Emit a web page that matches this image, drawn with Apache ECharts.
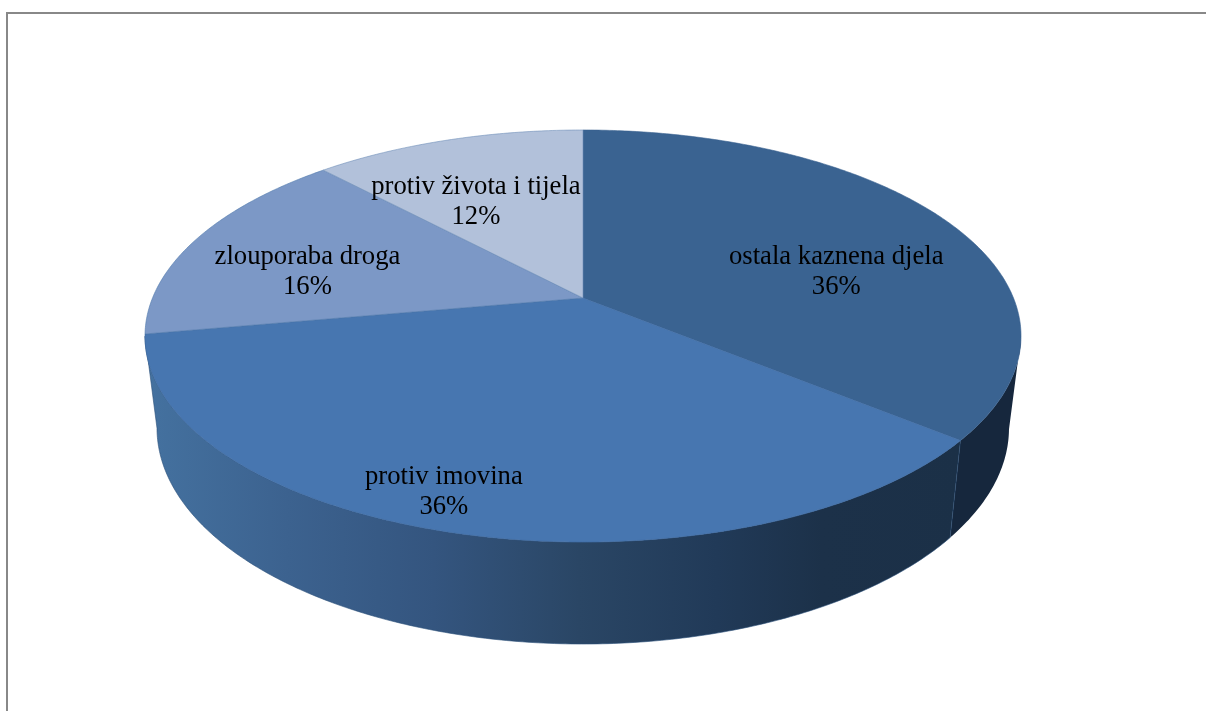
<!DOCTYPE html>
<html>
<head>
<meta charset="utf-8">
<style>html,body{margin:0;padding:0;background:#fff}#c{width:1206px;height:711px}</style>
<script src="https://cdn.jsdelivr.net/npm/echarts@6/dist/echarts.min.js"></script>
</head>
<body>
<div id="c"></div>
<script>
// Data
const categories = ['ostala kaznena djela', 'protiv imovina', 'zlouporaba droga', 'protiv života i tijela'];
const shares = [35.9, 36.3, 15.8, 12];

// Look
const topColors = ['#3a6391', '#4776b0', '#7c98c6', '#b2c1da'];
const edgeColors = ['#37608e', '#3f6ca3', '#4f79ab', '#6f8fb8'];
const labelDisc = [[0.603, -0.135], [-0.274, 0.825], [-0.656, -0.135], [-0.273, -0.53]];

// Projection of the pie disc (perspective view)
const apexX = 583, apexY = 298, tilt = 0.1845, discB = 199, topRx = 438;
const discA = topRx * Math.sqrt(1 - tilt * tilt);
const topCy = 336, topRy = 206;
const lowRx = 426, lowCy = 428, lowRy = 216;

function project(u, v) {
  const w = 1 - tilt * v;
  return [apexX + discA * u / w, apexY + discB * v / w];
}
function rimTop(a) { return project(Math.sin(a), -Math.cos(a)); }
function rimLow(a) {
  const p = rimTop(a);
  return [apexX + lowRx * (p[0] - apexX) / topRx, lowCy + lowRy * (p[1] - topCy) / topRy];
}

const total = shares.reduce((s, x) => s + x, 0);
const wallFill = [
  '#16273d',
  new echarts.graphic.LinearGradient(150, 0, 960, 0, [
    { offset: 0, color: '#44719f' },
    { offset: 0.17, color: '#3c628f' },
    { offset: 0.35, color: '#34557f' },
    { offset: 0.53, color: '#2a4665' },
    { offset: 0.7, color: '#213a58' },
    { offset: 0.83, color: '#1c3149' },
    { offset: 1, color: '#1b3047' }
  ], true),
  '#44719f',
  '#3a6391'
];

function renderItem(params, api) {
  const i = params.dataIndex;
  let before = 0;
  for (let k = 0; k < i; k++) before += shares[k];
  const value = api.value(0);
  const a0 = before / total * 2 * Math.PI;
  const a1 = (before + value) / total * 2 * Math.PI;
  const steps = Math.max(8, Math.round(value * 6));
  const top = [], wallTop = [], wallLow = [];
  for (let s = 0; s <= steps; s++) {
    const a = a0 + (a1 - a0) * s / steps;
    const p = rimTop(a);
    top.push(p);
    if (p[1] >= topCy) { wallTop.push(p); wallLow.push(rimLow(a)); }
  }
  const label = project(labelDisc[i][0], labelDisc[i][1]);
  const children = [
    {
      type: 'polygon', z2: 5,
      shape: { points: [project(0, 0)].concat(top) },
      style: { fill: topColors[i], stroke: edgeColors[i], lineWidth: 0.6 }
    },
    {
      type: 'text', z2: 10,
      style: {
        x: label[0], y: label[1],
        text: categories[i] + '\n' + Math.round(value / total * 100) + '%',
        align: 'center', verticalAlign: 'middle',
        font: '26.67px "Liberation Serif", "Times New Roman", serif',
        lineHeight: 30, fill: '#000'
      }
    }
  ];
  if (wallTop.length > 1) {
    children.unshift({
      type: 'polygon', z2: i === 1 ? 3 : 2,
      shape: { points: wallTop.concat(wallLow.slice().reverse()) },
      style: { fill: wallFill[i], stroke: i === 1 ? '#2a4f78' : null, lineWidth: i === 1 ? 0.6 : 0 }
    });
  }
  return { type: 'group', children };
}

const chart = echarts.init(document.getElementById('c'), null, { renderer: 'canvas' });
chart.setOption({
  animation: false,
  backgroundColor: '#fff',
  graphic: [
    { type: 'rect', silent: true, shape: { x: 6, y: 12, width: 1200, height: 2 }, style: { fill: '#888' } },
    { type: 'rect', silent: true, shape: { x: 6, y: 12, width: 2, height: 699 }, style: { fill: '#888' } }
  ],
  series: [{
    type: 'custom',
    coordinateSystem: 'none',
    silent: true,
    renderItem,
    data: shares.map(v => [v])
  }]
});
</script>
</body>
</html>
